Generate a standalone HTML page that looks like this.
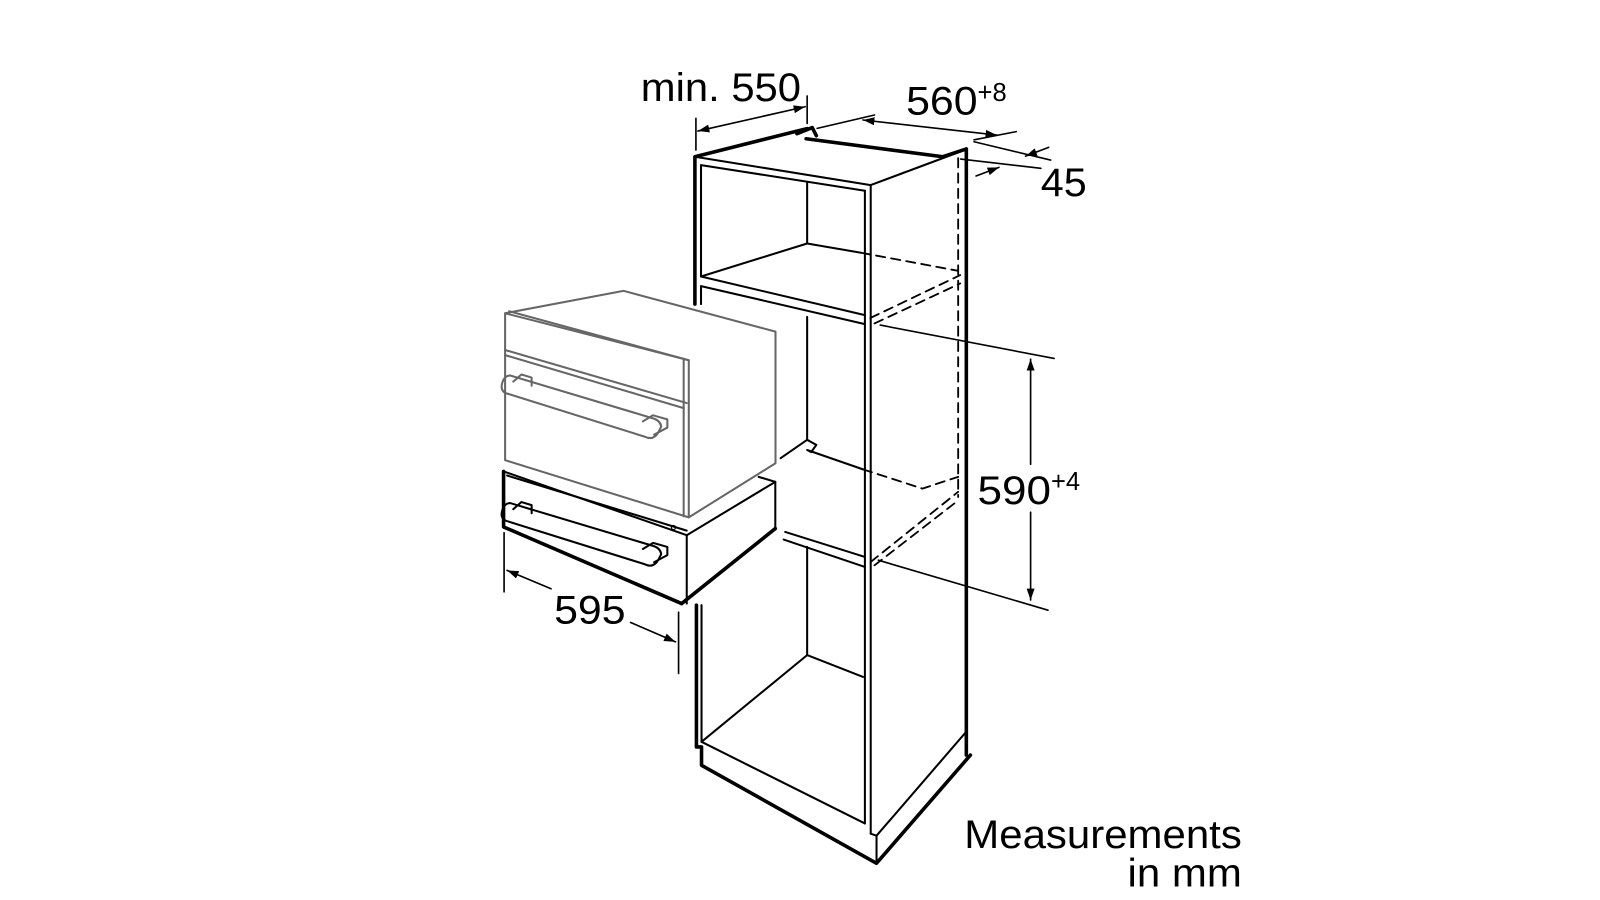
<!DOCTYPE html>
<html><head><meta charset="utf-8"><style>
html,body{margin:0;padding:0;background:#fff;}
svg{display:block;}
text{font-family:"Liberation Sans",sans-serif;fill:#000;}
</style></head><body>
<svg width="1600" height="900" viewBox="0 0 1568 882" preserveAspectRatio="none" xmlns="http://www.w3.org/2000/svg">
<defs>
<marker id="a" viewBox="0 0 10 10" refX="10" refY="5" markerWidth="7" markerHeight="7" orient="auto-start-reverse"><path d="M0,1.5 L10,5 L0,8.5 Z" fill="#000"/></marker>
</defs>
<rect width="1568" height="882" fill="#fff"/>
<g fill="none" stroke="#000" stroke-linecap="round" stroke-linejoin="round">
<g stroke-width="3.5">
<polyline points="681,298 681,153.6 791,126"/>
<polyline points="781,131 796,125 800,133"/>
<polyline points="790,136 924,153.6 947,146"/>
<line x1="947" y1="146" x2="947" y2="740"/>
<polyline points="682.5,593 682.5,732 687.5,732 687.5,750 859,846 951,740"/>
</g>
<g stroke-width="2">
<line x1="681" y1="153.6" x2="853.3" y2="181.4"/>
<line x1="853.3" y1="181.4" x2="947" y2="146.4"/>
<line x1="687" y1="161.8" x2="847.6" y2="186.9"/>
<line x1="687" y1="161.8" x2="687" y2="271"/>
<line x1="847.6" y1="186.9" x2="847.6" y2="807"/>
<line x1="853.3" y1="181.4" x2="853.3" y2="817"/>
<line x1="791" y1="179" x2="791" y2="238.6"/>
<line x1="687" y1="271" x2="791" y2="238.6"/>
<line x1="791" y1="238.6" x2="843.8" y2="247.7"/>
<line x1="687" y1="271" x2="847.6" y2="308.8"/>
<line x1="687" y1="280.4" x2="847.6" y2="317.6"/>
<line x1="687" y1="280.4" x2="687" y2="298"/>
<line x1="791" y1="310.5" x2="791" y2="431"/>
<polyline points="765,449 791,431 800,436 795,443 791,441 845.8,460"/>
<line x1="769.5" y1="521.3" x2="847.6" y2="545.8"/>
<line x1="768" y1="528.8" x2="847.6" y2="555.6"/>
<line x1="791" y1="536" x2="791" y2="642"/>
<line x1="687.5" y1="727" x2="791" y2="642"/>
<line x1="791" y1="642" x2="845.8" y2="663.4"/>
<line x1="687.5" y1="727" x2="847.6" y2="807"/>
<line x1="687.5" y1="593" x2="687.5" y2="727"/>
<line x1="853.3" y1="817" x2="859" y2="819"/>
<line x1="859" y1="819" x2="859" y2="846"/>
<line x1="859" y1="819" x2="947" y2="717"/>
</g>
<g stroke-width="1.8" stroke-dasharray="9,6">
<line x1="939" y1="155" x2="939" y2="487"/>
<line x1="843.8" y1="247.7" x2="939" y2="265.4"/>
<line x1="853" y1="311.6" x2="941" y2="269.6"/>
<line x1="857" y1="317" x2="941" y2="277.8"/>
<polyline points="845.8,460 904,478.8 939,467.3"/>
<line x1="853.3" y1="550.7" x2="939" y2="482"/>
<line x1="857" y1="554" x2="937" y2="492"/>
</g>
<g stroke-width="1.6">
<line x1="682" y1="116" x2="682" y2="147"/>
<line x1="791" y1="94" x2="791" y2="121"/>
<line x1="684" y1="128.4" x2="789" y2="104.6" marker-start="url(#a)" marker-end="url(#a)"/>
<line x1="800.8" y1="125.8" x2="857" y2="112.7"/>
<line x1="845.8" y1="117.6" x2="977" y2="132.4" marker-start="url(#a)" marker-end="url(#a)"/>
<line x1="954.6" y1="137" x2="995.9" y2="129"/>
<line x1="954.6" y1="138.9" x2="1029.6" y2="156.9"/>
<line x1="941.5" y1="155.9" x2="1020" y2="165"/>
<line x1="1027.7" y1="144.4" x2="1005" y2="153" marker-end="url(#a)"/>
<line x1="956.5" y1="172.5" x2="979" y2="164" marker-end="url(#a)"/>
<line x1="862.7" y1="318.6" x2="1033" y2="351.3"/>
<line x1="860.8" y1="549" x2="1027" y2="598"/>
<line x1="1010" y1="352" x2="1010" y2="455" marker-start="url(#a)"/>
<line x1="1010" y1="502" x2="1010" y2="588" marker-end="url(#a)"/>
<line x1="494" y1="522" x2="494" y2="580"/>
<line x1="665" y1="600" x2="665" y2="660"/>
<line x1="497" y1="559" x2="540" y2="577" marker-start="url(#a)"/>
<line x1="618" y1="610" x2="662" y2="629" marker-end="url(#a)"/>
</g>
<g stroke="#666" stroke-width="2">
<polygon points="495,307 611,285 760,325 760,454 675,507 675,353"/>
<polyline points="495,307 495,451 675,507"/>
<polyline points="499,305 675,353"/>
<line x1="495" y1="343" x2="673" y2="395"/>
<line x1="495" y1="348" x2="670" y2="400"/>
<line x1="670" y1="353" x2="670" y2="506"/>
<path d="M503,374 L511,367 L521,370 L521,378"/>
<path d="M492,376 Q490,384 498,386 L632,428 Q640,432 645,424 L648,418 Q647,412 640,410 L500,368 Q494,368 492,376 Z"/>
<path d="M630,413 L640,407 L654,411 L654,419 L641,426"/>
</g>
<g stroke-width="2">
<line x1="493.5" y1="462" x2="673" y2="524.5"/>
<line x1="497" y1="466" x2="673" y2="520"/>
<line x1="673" y1="524.5" x2="759.8" y2="472.2"/>
<polyline points="743.5,467.3 759.8,472.2 759.8,518"/>
<line x1="673" y1="524.5" x2="673" y2="591.5"/>
<path d="M503,499 L511,492 L521,495 L521,503"/>
<path d="M492,501 Q490,509 498,511 L632,553 Q640,557 645,549 L648,543 Q647,537 640,535 L500,493 Q494,493 492,501 Z"/>
<path d="M630,538 L640,532 L654,536 L654,544 L641,551"/>
<circle cx="660" cy="517" r="2" stroke-width="1.2"/>
</g>
<g stroke-width="3.5">
<polyline points="493.5,462 493.5,516.4 668,591.5"/>
<line x1="668" y1="591.5" x2="759.8" y2="518"/>
</g>
</g>
<text x="628" y="99" font-size="39" textLength="157" lengthAdjust="spacingAndGlyphs">min. 550</text>
<text x="888" y="112" font-size="39" textLength="70" lengthAdjust="spacingAndGlyphs">560</text>
<text x="958" y="99" font-size="25">+8</text>
<text x="1020" y="192" font-size="39" textLength="45" lengthAdjust="spacingAndGlyphs">45</text>
<text x="958" y="494" font-size="39" textLength="72" lengthAdjust="spacingAndGlyphs">590</text>
<text x="1030" y="480" font-size="25">+4</text>
<text x="543" y="611" font-size="39" textLength="70" lengthAdjust="spacingAndGlyphs">595</text>
<text x="945" y="831" font-size="39" textLength="272" lengthAdjust="spacingAndGlyphs">Measurements</text>
<text x="1105" y="869" font-size="39" textLength="112" lengthAdjust="spacingAndGlyphs">in mm</text>
</svg>
</body></html>
